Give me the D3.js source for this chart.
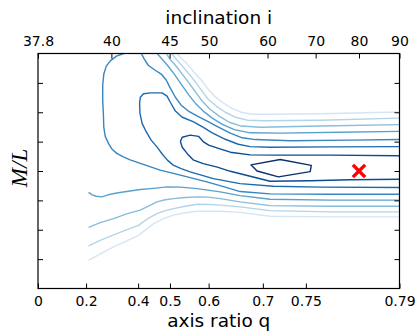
<!DOCTYPE html>
<meta charset="utf-8">
<body style="margin:0;background:#fff">
  <div id="chart"></div>

  <script src="https://d3js.org/d3.v7.min.js"></script>
  <script>
  // ——— axis ticks: the models sit on a grid coordinate u in [0,1] ———
  const incTicks = [37.8, 40, 45, 50, 60, 70, 80, 90];
  const incGrid  = [0, 0.203, 0.364, 0.473, 0.635, 0.768, 0.888, 1];
  const qTicks   = [0, 0.2, 0.4, 0.5, 0.6, 0.7, 0.75, 0.79];
  const qGrid    = [0, 0.133, 0.277, 0.365, 0.472, 0.622, 0.741, 1];
  const mlTicks  = [1, 2, 3, 4, 5, 6, 7];

  // best-fit model
  const best = { inc: 80, ml: 4.0 };

  // ——— contour levels, [u, M/L] (level 8 = innermost) ———
  const lev8 = [
    [[0.589,4.21],[0.606,4.00],[0.665,3.80],[0.753,3.98],[0.756,4.19],[0.670,4.39]]
  ];
  const lev7 = [
    [[1.0,4.52],[0.808,4.54],[0.670,4.54],[0.587,4.55],[0.532,4.64],[0.499,4.77],[0.472,4.88],
     [0.458,4.99],[0.444,5.18],[0.421,5.22],[0.399,5.15],[0.394,5.01],[0.399,4.81],[0.413,4.59],
     [0.429,4.38],[0.457,4.25],[0.496,4.13],[0.532,3.99],[0.587,3.82],[0.642,3.65],[0.753,3.67],
     [0.864,3.70],[1.0,3.72]]
  ];
  const lev6 = [
    [[1.0,4.83],[0.808,4.82],[0.642,4.81],[0.587,4.83],[0.554,4.91],[0.518,5.08],[0.482,5.30],
     [0.454,5.51],[0.429,5.68],[0.399,5.83],[0.380,6.04],[0.366,6.34],[0.357,6.55],[0.343,6.66],
     [0.311,6.66],[0.292,6.63],[0.283,6.51],[0.281,6.30],[0.282,5.97],[0.288,5.62],[0.300,5.32],
     [0.313,5.05],[0.329,4.82],[0.344,4.57],[0.358,4.37],[0.374,4.20],[0.396,4.08],[0.421,3.97],
     [0.485,3.74],[0.559,3.57],[0.651,3.48],[0.781,3.45],[1.0,3.44]]
  ];
  const lev5 = [
    [[0.286,8.0],[0.294,7.81],[0.305,7.60],[0.324,7.43],[0.341,7.30],[0.355,7.09],[0.366,6.82],
     [0.380,6.51],[0.396,6.24],[0.416,6.04],[0.441,5.87],[0.468,5.70],[0.499,5.49],[0.532,5.29],
     [0.565,5.13],[0.601,5.07],[0.698,5.03],[0.864,5.05],[1.0,5.07]],
    [[0.237,8.0],[0.217,7.91],[0.200,7.75],[0.189,7.57],[0.182,7.30],[0.179,6.92],[0.179,6.41],
     [0.181,5.90],[0.182,5.49],[0.186,5.18],[0.195,4.94],[0.205,4.74],[0.218,4.60],[0.236,4.48],
     [0.255,4.38],[0.283,4.26],[0.338,4.03],[0.394,3.86],[0.467,3.63],[0.518,3.45],[0.559,3.30],
     [0.642,3.22],[0.808,3.21],[1.0,3.21]]
  ];
  const lev4 = [
    [[0.330,8.0],[0.341,7.84],[0.358,7.60],[0.377,7.30],[0.396,6.96],[0.416,6.61],[0.435,6.31],
     [0.457,6.04],[0.482,5.80],[0.510,5.59],[0.543,5.41],[0.587,5.30],[0.670,5.29],[0.836,5.32],
     [1.0,5.35]],
    [[0.140,3.27],[0.150,3.19],[0.161,3.14],[0.177,3.12],[0.194,3.19],[0.218,3.25],[0.250,3.31],
     [0.283,3.37],[0.319,3.41],[0.357,3.46],[0.394,3.45],[0.440,3.40],[0.504,3.29],[0.559,3.16],
     [0.642,3.04],[0.808,3.01],[1.0,3.01]]
  ];
  const lev3 = [
    [[0.355,8.0],[0.363,7.84],[0.380,7.60],[0.399,7.30],[0.418,6.99],[0.438,6.65],[0.454,6.38],
     [0.476,6.10],[0.501,5.87],[0.529,5.66],[0.562,5.53],[0.615,5.49],[0.781,5.53],[1.0,5.58]],
    [[0.140,2.08],[0.172,2.24],[0.209,2.38],[0.247,2.55],[0.283,2.67],[0.311,2.84],[0.329,2.95],
     [0.352,3.02],[0.375,3.06],[0.407,3.10],[0.440,3.12],[0.471,3.11],[0.504,3.06],[0.559,2.95],
     [0.642,2.82],[0.808,2.80],[1.0,2.80]]
  ];
  const lev2 = [
    [[0.370,8.0],[0.380,7.84],[0.396,7.62],[0.416,7.33],[0.435,7.04],[0.454,6.72],[0.471,6.44],
     [0.493,6.21],[0.518,6.00],[0.546,5.83],[0.579,5.73],[0.629,5.71],[0.781,5.73],[1.0,5.80]],
    [[0.140,1.45],[0.172,1.64],[0.218,1.87],[0.250,2.02],[0.278,2.15],[0.305,2.39],[0.329,2.55],
     [0.352,2.65],[0.375,2.72],[0.407,2.80],[0.440,2.87],[0.476,2.86],[0.504,2.84],[0.559,2.78],
     [0.642,2.65],[0.808,2.61],[1.0,2.61]]
  ];
  const lev1 = [
    [[0.385,8.0],[0.396,7.84],[0.413,7.64],[0.432,7.36],[0.452,7.09],[0.471,6.78],[0.488,6.55],
     [0.510,6.34],[0.535,6.14],[0.562,6.00],[0.593,5.93],[0.642,5.93],[0.781,5.95],[1.0,6.01]],
    [[0.140,0.96],[0.172,1.18],[0.209,1.42],[0.244,1.61],[0.278,1.81],[0.300,2.02],[0.320,2.21],
     [0.347,2.38],[0.375,2.50],[0.407,2.58],[0.440,2.63],[0.504,2.63],[0.559,2.59],[0.642,2.46],
     [0.808,2.44],[1.0,2.44]]
  ];

  const contours = [
    { level: 1, segs: lev1 }, { level: 2, segs: lev2 }, { level: 3, segs: lev3 },
    { level: 4, segs: lev4 }, { level: 5, segs: lev5 }, { level: 6, segs: lev6 },
    { level: 7, segs: lev7 }, { level: 8, segs: lev8, closed: true }
  ];

  // ——— SVG & scales ———
  const margin = { top: 53.5, right: 18.5, bottom: 45.5, left: 38 };
  const width  = 418 - margin.left - margin.right;
  const height = 334 - margin.top  - margin.bottom;

  const x = d3.scaleLinear().domain([0, 1]).range([0, width]);
  const y = d3.scaleLinear().domain([0, 8]).range([height, 0]);
  const xInc = d3.scaleLinear().domain(incTicks).range(incGrid.map(x));
  const xQ   = d3.scaleLinear().domain(qTicks).range(qGrid.map(x));

  const color = d3.scaleSequentialPow(d3.interpolateBlues).exponent(0.85).domain([0, 8]);

  const svg = d3.select("#chart").append("svg")
      .attr("width", 418)
      .attr("height", 334)
    .append("g")
      .attr("transform", `translate(${margin.left},${margin.top})`);

  const line = d3.line().x(d => x(d[0])).y(d => y(d[1]));
  const lineClosed = d3.line().x(d => x(d[0])).y(d => y(d[1])).curve(d3.curveLinearClosed);

  contours.forEach(c => {
    svg.append("g")
      .selectAll("path")
      .data(c.segs)
      .join("path")
        .attr("d", d => (c.closed ? lineClosed : line)(d))
        .attr("fill", "none")
        .attr("stroke", color(c.level))
        .attr("stroke-width", 1.4)
        .attr("stroke-linejoin", "round");
  });

  // best model marker
  svg.append("path")
    .attr("transform", `translate(${xInc(best.inc)},${y(best.ml)})`)
    .attr("d", d3.symbol(d3.symbolX).size(100)())
    .attr("fill", "none")
    .attr("stroke", "#ff0000")
    .attr("stroke-width", 3.5);

  // ——— Axes (ticks point inward) ———
  const tickFont = g => g
    .attr("font-family", "DejaVu Sans")
    .attr("font-size", 14)
    .call(g => g.select(".domain").remove())
    .call(g => g.selectAll(".tick line").attr("stroke", "#000"))
    .call(g => g.selectAll(".tick text").attr("fill", "#000"));

  svg.append("g")
    .call(d3.axisTop(xInc).tickValues(incTicks).tickSize(-5).tickPadding(8).tickFormat(d => d))
    .call(tickFont);

  svg.append("g")
    .attr("transform", `translate(0,${height})`)
    .call(d3.axisBottom(xQ).tickValues(qTicks).tickSize(-5).tickPadding(8).tickFormat(d => d))
    .call(tickFont);

  svg.append("g")
    .call(d3.axisLeft(y).tickValues(mlTicks).tickSize(-5).tickFormat(""))
    .call(tickFont);

  svg.append("g")
    .attr("transform", `translate(${width},0)`)
    .call(d3.axisRight(y).tickValues(mlTicks).tickSize(-5).tickFormat(""))
    .call(tickFont);

  svg.append("rect")
    .attr("width", width)
    .attr("height", height)
    .attr("fill", "none")
    .attr("stroke", "#000")
    .attr("stroke-width", 1.2);

  // ——— Labels ———
  svg.append("text")
    .attr("x", width / 2)
    .attr("y", -29.5)
    .attr("text-anchor", "middle")
    .attr("font-family", "DejaVu Sans")
    .attr("font-size", 18.5)
    .text("inclination i");

  svg.append("text")
    .attr("x", width / 2)
    .attr("y", height + 38)
    .attr("text-anchor", "middle")
    .attr("font-family", "DejaVu Sans")
    .attr("font-size", 18.5)
    .text("axis ratio q");

  svg.append("text")
    .attr("transform", `translate(${27 - margin.left},${height / 2 - 3}) rotate(-90)`)
    .attr("text-anchor", "middle")
    .attr("font-family", "Liberation Serif")
    .attr("font-style", "italic")
    .attr("font-size", 23)
    .text("M/L");
  </script>
</body>
